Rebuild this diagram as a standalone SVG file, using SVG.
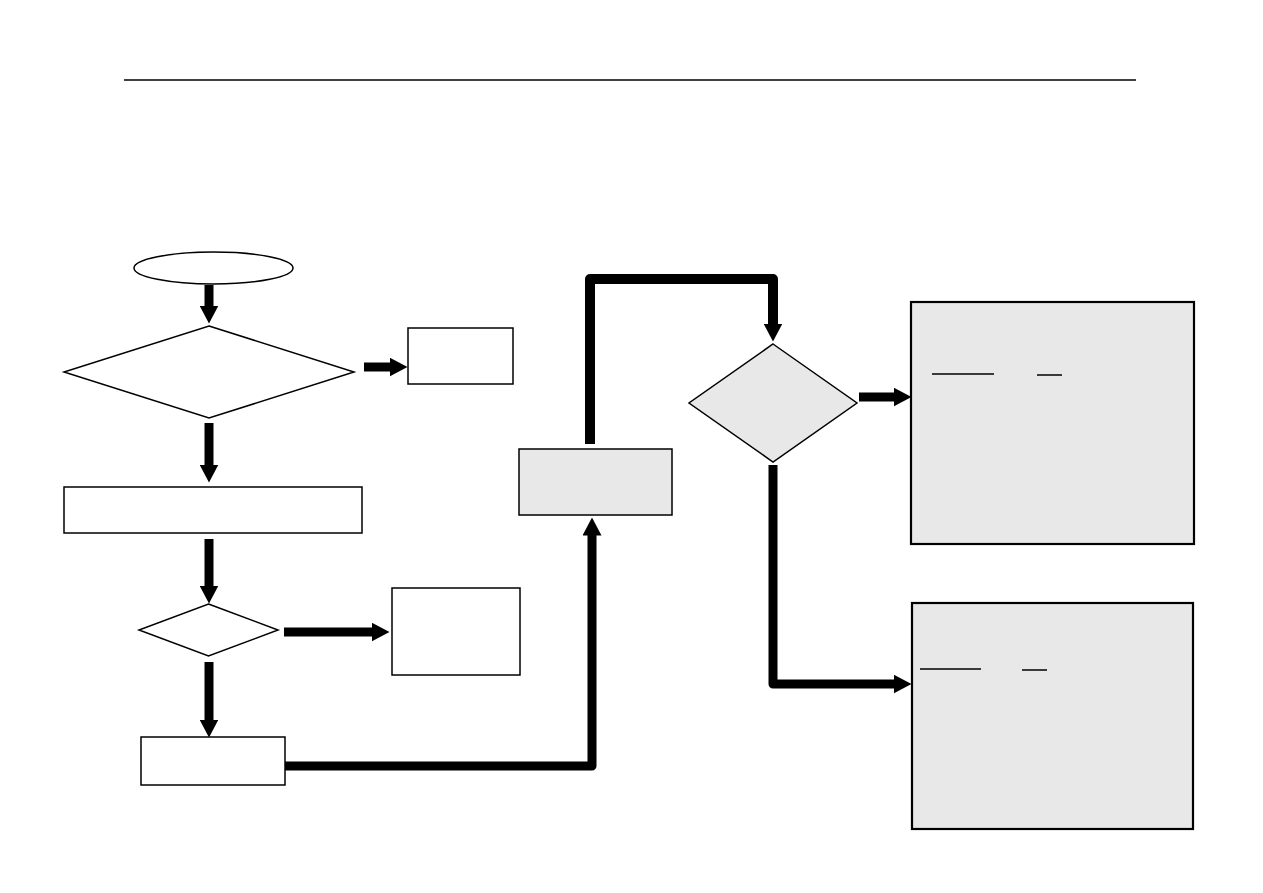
<svg xmlns="http://www.w3.org/2000/svg" width="1263" height="893" viewBox="0 0 1263 893">
  <defs>
    <style>
      .node { stroke: #000; stroke-width: 1.5; fill: #fff; }
      .gray { fill: #e8e8e8; }
      .thick { stroke-width: 2.2; }
      .conn { fill: none; stroke: #000; stroke-width: 9; stroke-linejoin: round; marker-end: url(#head); }
      .ul { stroke: #000; stroke-width: 1.5; }
    </style>
    <marker id="head" markerUnits="userSpaceOnUse" markerWidth="18" markerHeight="19" viewBox="0 0 18 19" refX="0.5" refY="9.5" orient="auto">
      <path d="M0,0 L18,9.5 L0,19 z" fill="#000"/>
    </marker>
  </defs>
  <rect width="1263" height="893" fill="#fff"/>
  <line x1="124" y1="80" x2="1136" y2="80" stroke="#000" stroke-width="1.5"/>

  <g id="start"><ellipse class="node" cx="213.5" cy="268" rx="79.5" ry="16"/></g>
  <g id="decision1"><polygon class="node" points="209,326 354,372 209,418 64,372"/></g>
  <g id="boxA"><rect class="node" x="408" y="328" width="105" height="56"/></g>
  <g id="boxB"><rect class="node" x="64" y="487" width="298" height="46"/></g>
  <g id="decision2"><polygon class="node" points="208.5,604 278,630 208.5,656 139,630"/></g>
  <g id="boxC"><rect class="node" x="392" y="588" width="128" height="87"/></g>
  <g id="boxD"><rect class="node" x="141" y="737" width="144" height="48"/></g>
  <g id="boxE"><rect class="node gray" x="519" y="449" width="153" height="66"/></g>
  <g id="decision3"><polygon class="node gray" points="773,344 857,403 773,462 689,403"/></g>
  <g id="boxF">
    <rect class="node gray thick" x="911" y="302" width="283" height="242"/>
    <line class="ul" x1="932" y1="374" x2="994" y2="374"/>
    <line class="ul" x1="1037" y1="375" x2="1062" y2="375"/>
  </g>
  <g id="boxG">
    <rect class="node gray thick" x="912" y="603" width="281" height="226"/>
    <line class="ul" x1="920" y1="669" x2="981" y2="669"/>
    <line class="ul" x1="1022" y1="670" x2="1047" y2="670"/>
  </g>

  <g id="connectors">
    <path class="conn" d="M209,285 L209,306"/>
    <path class="conn" d="M364,367 L390,367"/>
    <path class="conn" d="M209,423 L209,465"/>
    <path class="conn" d="M209,539 L209,586"/>
    <path class="conn" d="M284,632 L372,632"/>
    <path class="conn" d="M209,662 L209,720"/>
    <path class="conn" d="M285,766 L592,766 L592,535"/>
    <path class="conn" style="stroke-width:10" d="M590,444 L590,279 L773,279 L773,324"/>
    <path class="conn" d="M859,397 L894,397"/>
    <path class="conn" d="M773,465 L773,684 L894,684"/>
  </g>
</svg>
